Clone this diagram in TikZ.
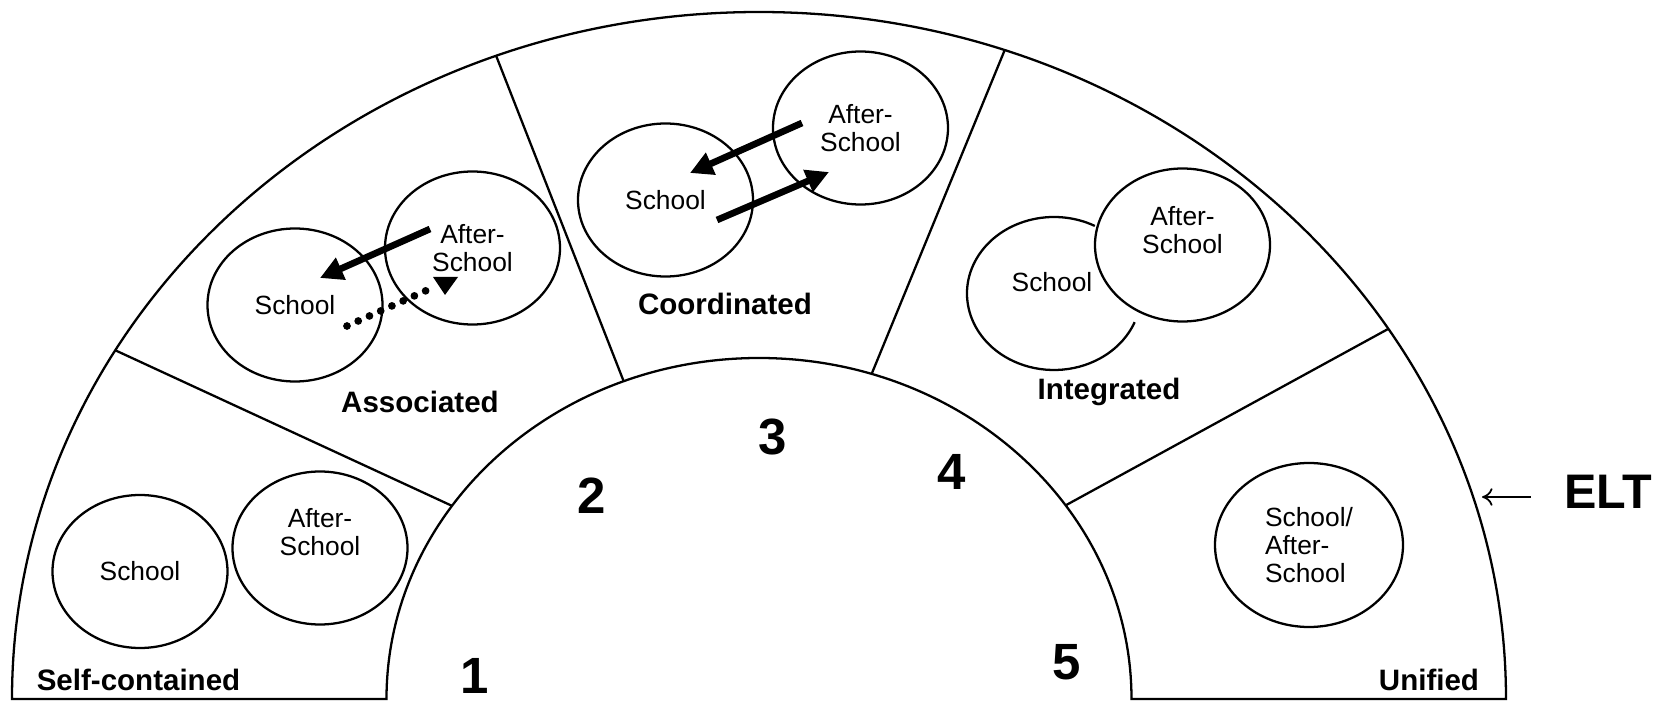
\documentclass[tikz,border=0pt]{standalone}
\usepackage{fontspec}
\setmainfont{Liberation Sans}
\usepackage{tikz}
\usetikzlibrary{shapes.geometric, arrows.meta}
\tikzstyle{ring} = [line width=0.65pt]
\tikzstyle{bubbletext} = [align=center, font=\fontsize{7.5}{8}\selectfont]
\tikzstyle{bubble} = [draw, ellipse, line width=0.65pt, inner sep=0pt, minimum width=1.75cm, minimum height=1.53cm, bubbletext]
\tikzstyle{arrow} = [line width=1.9pt,-{Triangle[length=6.5pt,width=6.5pt]}]
\tikzstyle{dotline} = [line width=2.2pt, line cap=round, dash pattern=on 0pt off 3.5pt]
\tikzstyle{eltarrow} = [line width=0.5pt,-{To[length=3pt,width=5pt]}, shorten <=6pt]
\tikzstyle{stagelabel} = [anchor=base, inner sep=0pt, font=\fontsize{8.4}{10}\selectfont\bfseries]
\tikzstyle{stagenum} = [inner sep=0pt, font=\fontsize{14.5}{16}\selectfont\bfseries]

\begin{document}
\begin{tikzpicture}
	\useasboundingbox (0,0) rectangle (16.76,7.01);
	%Ring
	\coordinate (c) at (7.59,0.02);
	\draw[ring] (0.12,0.02) arc[start angle=180,end angle=0,x radius=7.47,y radius=6.87] -- (11.315,0.02) arc[start angle=0,end angle=180,x radius=3.725,y radius=3.41] -- cycle;
	\foreach \a/\b in {149.5/145.5, 110.6/111.3, 70.8/72.4, 32.6/34.6}
		\draw[ring, shift={(c)}] (\a:7.47 and 6.87) -- (\b:3.725 and 3.41);
	
	%Nodes
	\node[bubble] (sSchool) at (1.40,1.295) {School};
	\node[bubble, label={[bubbletext,yshift=0.16cm]center:After-\\School}] (sAfter) at (3.20,1.53) {};
	\node[bubble] (aSchool) at (2.95,3.96) {School};
	\node[bubble] (aAfter) at (4.725,4.53) {After-\\School};
	\node[bubble] (cSchool) at (6.655,5.01) {School};
	\node[bubble] (cAfter) at (8.605,5.73) {After-\\School};
	\node[bubbletext] (iSchool) at (10.52,4.19) {School};
	\node[bubble, label={[bubbletext,yshift=0.15cm]center:After-\\School}] (iAfter) at (11.825,4.56) {};
	\node[bubble, align=left, minimum width=1.88cm, minimum height=1.64cm] (uBoth) at (13.09,1.56) {School/\\After-\\School};
	\draw[line width=0.65pt] (10.54,4.075) ++(62:0.87 and 0.765) arc[start angle=62,end angle=338,x radius=0.87,y radius=0.765];
	
	\node[stagelabel] (lSelf) at (1.385,0.11) {Self-contained};
	\node[stagelabel] (lAssoc) at (4.20,2.88) {Associated};
	\node[stagelabel] (lCoord) at (7.25,3.86) {Coordinated};
	\node[stagelabel] (lInteg) at (11.09,3.01) {Integrated};
	\node[stagelabel] (lUnif) at (14.29,0.11) {Unified};
	\foreach \n/\x/\y in {1/4.75/0.25, 2/5.92/2.05, 3/7.73/2.64, 4/9.52/2.29, 5/10.67/0.39}
		\node[stagenum] (n\n) at (\x,\y) {\n};
	\node[font=\fontsize{13.8}{16}\selectfont\bfseries] (ELT) at (16.08,2.09) {ELT};
	
	%Lines
	\coordinate (aFrom) at (4.30,4.72);
	\coordinate (aTo) at (3.20,4.23);
	\coordinate (aDotFrom) at (3.47,3.75);
	\coordinate (aDotTo) at (4.32,4.13);
	\coordinate (aDotTip) at (4.45,4.06);
	\draw[arrow] (aFrom) -- (aTo);
	\draw[dotline] (aDotFrom) -- (aDotTo);
	\fill (aDotTip) -- ++(-0.12,0.18) -- ++(0.25,0) -- cycle;
	
	\coordinate (cFrom1) at (8.02,5.78);
	\coordinate (cTo1) at (6.90,5.28);
	\coordinate (cFrom2) at (7.17,4.81);
	\coordinate (cTo2) at (8.29,5.29);
	\draw[arrow] (cFrom1) -- (cTo1);
	\draw[arrow] (cFrom2) -- (cTo2);
	
	\coordinate (eltpt) at (14.82,2.04);
	\draw[eltarrow] (eltpt -| ELT.west) -- (eltpt);
\end{tikzpicture}
\end{document}
